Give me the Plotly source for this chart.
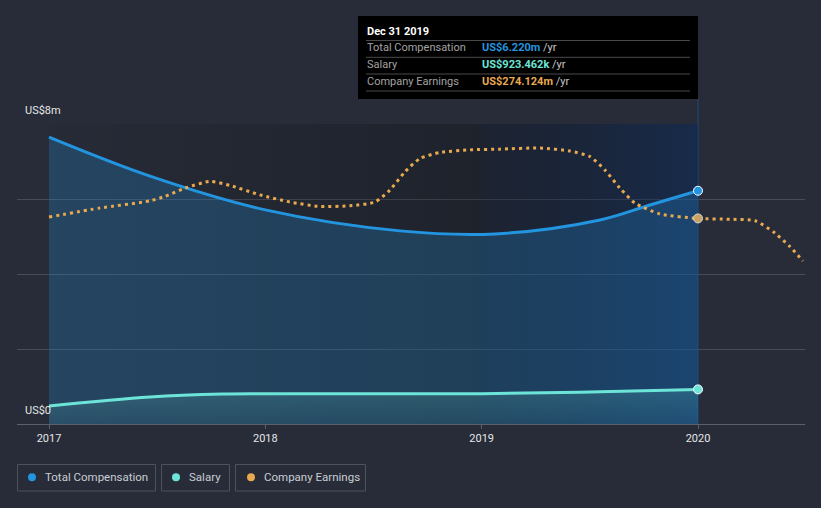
import plotly.graph_objects as go

# ---------------- data ----------------
comp_x = [2017.0, 2017.467, 2018.0, 2018.623, 2019.062, 2019.547, 2019.778, 2020.0]
total_comp = [7.65, 6.61, 5.71, 5.15, 5.07, 5.44, 5.84, 6.22]  # US$m

sal_x = [2017.0, 2017.467, 2017.80, 2018.0, 2019.0, 2019.547, 2020.0]
salary = [0.48, 0.72, 0.80, 0.81, 0.81, 0.86, 0.923]  # US$m

earn_x = [2017.0, 2017.236, 2017.467, 2017.536, 2017.629, 2017.744, 2017.837, 2017.975,
          2018.114, 2018.253, 2018.391, 2018.507, 2018.576, 2018.646, 2018.715, 2018.807,
          2018.946, 2019.085, 2019.270, 2019.408, 2019.501, 2019.570, 2019.639, 2019.709,
          2019.824, 2020.0, 2020.148, 2020.264, 2020.356, 2020.425, 2020.485]
earnings = [276, 288, 297.5, 303.5, 314.5, 323.5, 318, 305.5,
            296, 290, 291, 296, 312, 336.5, 354, 362,
            365.5, 366.5, 368, 364, 356.5, 338.5, 314.5, 294.5,
            280, 274.124, 273, 271, 254.5, 236.5, 217.5]  # US$m

x_ticks = [2017, 2018, 2019, 2020]
x_tick_text = ["2017", "2018", "2019", "2020"]
y_ticks = [0, 8]
y_tick_text = ["US$0", "US$8m"]

series_names = ["Total Compensation", "Salary", "Company Earnings"]
tooltip_title = "Dec 31 2019"
tooltip_values = ["US$6.220m", "US$923.462k", "US$274.124m"]

# ---------------- style ----------------
BG = "#272c38"
C_COMP = "#2394df"
C_SAL = "#6ce5d8"
C_EARN = "#e9a94f"
FONT = "Roboto"

W, H = 821, 508
L, R, T, B = 17, 16, 124, 84
PW, PH = W - L - R, H - T - B


def px(x):
    return (x - L) / PW


def py(y):
    return (H - B - y) / PH


fig = go.Figure()

# background regions (gradients)
fig.add_trace(go.Scatter(
    x=[x_ticks[0], x_ticks[2], x_ticks[2], x_ticks[0], x_ticks[0]],
    y=[0, 0, 8, 8, 0], fill="toself", mode="none", hoverinfo="skip", showlegend=False,
    fillgradient=dict(type="horizontal",
                      colorscale=[[0, "rgba(0,0,0,0.03)"], [1, "rgba(0,0,0,0.22)"]])))
fig.add_trace(go.Scatter(
    x=[x_ticks[2], x_ticks[3], x_ticks[3], x_ticks[2], x_ticks[2]],
    y=[0, 0, 8, 8, 0], fill="toself", mode="none", hoverinfo="skip", showlegend=False,
    fillgradient=dict(type="horizontal",
                      colorscale=[[0, "rgba(0,10,30,0.27)"], [1, "rgba(0,40,100,0.41)"]])))

# total compensation
fig.add_trace(go.Scatter(
    x=comp_x, y=total_comp, mode="lines", fill="tozeroy",
    fillcolor="rgba(35,148,223,0.25)",
    line=dict(color=C_COMP, width=3, shape="spline", smoothing=1.0),
    hoverinfo="skip", showlegend=False))
# salary
fig.add_trace(go.Scatter(
    x=sal_x, y=salary, mode="lines", fill="tozeroy",
    fillgradient=dict(type="vertical",
                      colorscale=[[0, "rgba(108,229,216,0.06)"], [1, "rgba(108,229,216,0.18)"]]),
    line=dict(color=C_SAL, width=3, shape="spline", smoothing=1.0),
    hoverinfo="skip", showlegend=False))
# earnings
fig.add_trace(go.Scatter(
    x=earn_x, y=earnings, mode="lines", yaxis="y2",
    line=dict(color=C_EARN, width=3, dash="3px,4px", shape="spline", smoothing=0.6),
    hoverinfo="skip", showlegend=False))

# end markers
i_e = earn_x.index(2020.0)
fig.add_trace(go.Scatter(x=[comp_x[-1]], y=[total_comp[-1]], mode="markers",
                         marker=dict(color=C_COMP, size=9, line=dict(color="white", width=1)),
                         hoverinfo="skip", showlegend=False))
fig.add_trace(go.Scatter(x=[sal_x[-1]], y=[salary[-1]], mode="markers",
                         marker=dict(color=C_SAL, size=9, line=dict(color="white", width=1)),
                         hoverinfo="skip", showlegend=False))
fig.add_trace(go.Scatter(x=[earn_x[i_e]], y=[earnings[i_e]], mode="markers", yaxis="y2",
                         marker=dict(color="#c9a263", size=9, line=dict(color="#d8d8d8", width=1)),
                         hoverinfo="skip", showlegend=False))

shapes = []
annotations = []

# hover vertical line
shapes.append(dict(type="line", xref="x", yref="paper", x0=2020, x1=2020,
                   y0=0, y1=py(99), line=dict(color="#1f4b7c", width=1), layer="below"))

# tooltip box
shapes.append(dict(type="rect", xref="paper", yref="paper", x0=px(358), x1=px(698),
                   y0=py(99), y1=py(16), fillcolor="#000000", line=dict(width=0)))
for ly in [40.5, 57.3, 74, 91]:
    shapes.append(dict(type="line", xref="paper", yref="paper", x0=px(366), x1=px(690),
                       y0=py(ly), y1=py(ly), line=dict(color="#4a4a4a", width=1)))
annotations.append(dict(xref="paper", yref="paper", x=px(365), y=py(31.5), xanchor="left",
                        yanchor="middle", showarrow=False, text="<b>" + tooltip_title + "</b>",
                        font=dict(family=FONT, size=11, color="#ffffff")))
row_y = [48, 64.8, 81.7]
val_colors = [C_COMP, C_SAL, C_EARN]
for name, val, col, ry in zip(series_names, tooltip_values, val_colors, row_y):
    annotations.append(dict(xref="paper", yref="paper", x=px(364.5), y=py(ry), xanchor="left",
                            yanchor="middle", showarrow=False, text=name,
                            font=dict(family=FONT, size=11, color="#a3a3a3")))
    annotations.append(dict(xref="paper", yref="paper", x=px(480), y=py(ry), xanchor="left",
                            yanchor="middle", showarrow=False,
                            text=f"<b>{val}</b><span style='color:#c8c8c8'> /yr</span>",
                            font=dict(family=FONT, size=11, color=col)))

# y tick labels (inside, above gridlines)
for v, t in zip(y_ticks, y_tick_text):
    annotations.append(dict(xref="paper", yref="y", x=px(22.5), y=v, xanchor="left",
                            yanchor="bottom", yshift=5, showarrow=False, text=t,
                            font=dict(family=FONT, size=11, color="#e6e6e6")))

# legend boxes
boxes = [(17, 156), (161, 230), (235, 366)]
dots = [32, 176, 251]
texts = [42.5, 186.5, 261.5]
for (bx0, bx1), dx, tx, name, col in zip(boxes, dots, texts, series_names, val_colors):
    shapes.append(dict(type="rect", xref="paper", yref="paper", x0=px(bx0 + 0.5), x1=px(bx1 - 0.5),
                       y0=py(491), y1=py(464.5), line=dict(color="#4d525d", width=1),
                       fillcolor="rgba(0,0,0,0)"))
    shapes.append(dict(type="circle", xref="paper", yref="paper", x0=px(dx - 4), x1=px(dx + 4),
                       y0=py(481.3), y1=py(473.3), fillcolor=col, line=dict(width=0)))
    annotations.append(dict(xref="paper", yref="paper", x=px(tx), y=py(477.5), xanchor="left",
                            yanchor="middle", showarrow=False, text=name,
                            font=dict(family=FONT, size=11.5, color="#c9cdd3")))

fig.update_layout(
    width=W, height=H, autosize=False,
    margin=dict(l=L, r=R, t=T, b=B, pad=0),
    paper_bgcolor=BG, plot_bgcolor=BG,
    showlegend=False,
    font=dict(family=FONT, color="#e6e6e6", size=11),
    xaxis=dict(range=[2017 - 32 / 216.33, 2020 + 107 / 216.33], tickvals=x_ticks,
               ticktext=x_tick_text, showgrid=False, zeroline=False,
               showline=True, linecolor="#5c606b", linewidth=1,
               ticks="outside", ticklen=4, tickcolor="#5c606b",
               tickfont=dict(family=FONT, size=11, color="#e6e6e6")),
    yaxis=dict(range=[0, 8], tickvals=[0, 2, 4, 6, 8], showticklabels=False,
               gridcolor="#474c57", gridwidth=1, zeroline=False, fixedrange=True),
    yaxis2=dict(range=[0, 400], overlaying="y", visible=False, showgrid=False),
    shapes=shapes, annotations=annotations,
)

fig.write_html("out.html")
